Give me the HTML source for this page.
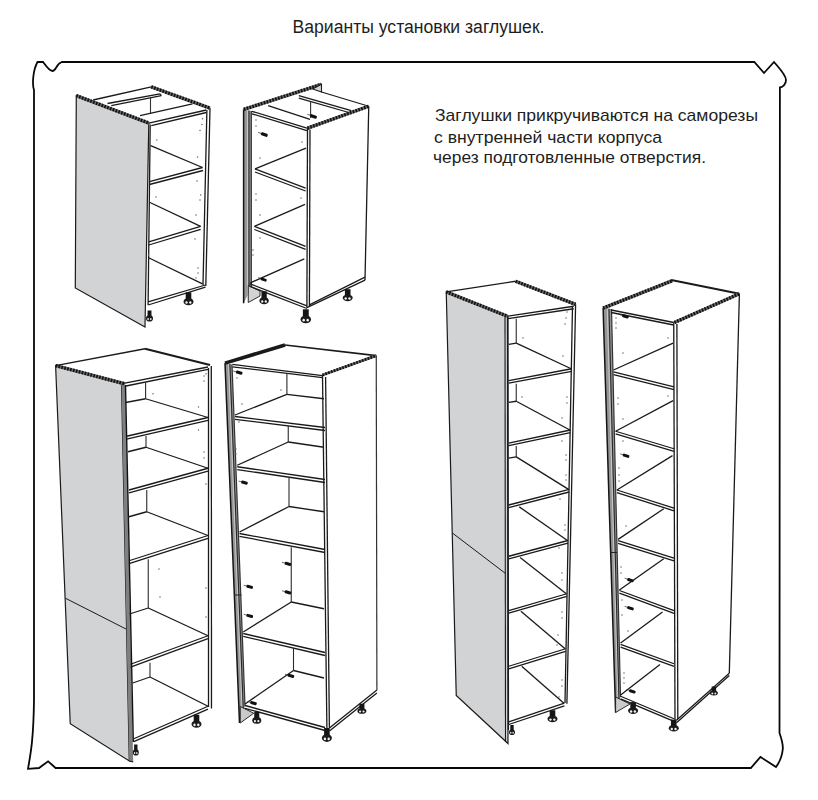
<!DOCTYPE html>
<html><head><meta charset="utf-8">
<style>
html,body{margin:0;padding:0;background:#fff;width:818px;height:800px;overflow:hidden}
svg{position:absolute;left:0;top:0}
text{font-family:"Liberation Sans",sans-serif;fill:#1e1e1e}
</style></head><body>
<svg width="818" height="800" viewBox="0 0 818 800">
<text x="292.5" y="33.2" font-size="18.8" textLength="252" lengthAdjust="spacingAndGlyphs">Варианты установки заглушек.</text>
<text x="435" y="120.5" font-size="17" textLength="323" lengthAdjust="spacingAndGlyphs">Заглушки прикручиваются на саморезы</text>
<text x="434" y="143" font-size="17" textLength="228" lengthAdjust="spacingAndGlyphs">с внутренней части корпуса</text>
<text x="433" y="163" font-size="17" textLength="273" lengthAdjust="spacingAndGlyphs">через подготовленные отверстия.</text>
<path d="M61.9,62 L754.3,62 L764,73 L774,62 C780,69 786,75 786,80 C786,84 783,87 779.9,87.5 L779.5,733 C782,740 783,746 782.8,749 C782,757 779,763 776,767 L760.5,757 L750.8,768 L55.6,768 L48.1,761.3 L39,768 L28,768.8 C31,752 33.5,738 34,700 L34,90 C32,84 33,70 37.5,62 L43.1,62 C46,66 49,71 52.5,71 C56,71 56,64 61.9,62 Z" fill="none" stroke="#080808" stroke-width="1.8"/>
<polygon points="76.30,95.60 148.80,123.10 145.00,326.90 75.30,288.00" fill="#d2d3d5" stroke="#1a1a1a" stroke-width="1.2"/>
<line x1="76.3" y1="95.6" x2="148.8" y2="123.1" stroke="#6a6a6a" stroke-width="3.4"/>
<line x1="76.3" y1="95.6" x2="148.8" y2="123.1" stroke="#111" stroke-width="3.4" stroke-dasharray="1.6 1.4"/>
<polyline points="150.20,124.50 148.10,305.00" fill="none" stroke="#1a1a1a" stroke-width="1.3" />
<polyline points="93.10,100.00 151.25,86.90" fill="none" stroke="#1a1a1a" stroke-width="1.3" />
<line x1="151.25" y1="86.9" x2="210" y2="108.1" stroke="#6a6a6a" stroke-width="3.4"/>
<line x1="151.25" y1="86.9" x2="210" y2="108.1" stroke="#111" stroke-width="3.4" stroke-dasharray="1.6 1.4"/>
<polyline points="107.50,103.50 160.00,93.80" fill="none" stroke="#1a1a1a" stroke-width="1.3" />
<polyline points="111.30,105.60 161.30,95.60" fill="none" stroke="#1a1a1a" stroke-width="1.3" />
<polyline points="160.00,93.80 161.30,95.60" fill="none" stroke="#1a1a1a" stroke-width="1.3" />
<polyline points="150.50,97.50 150.50,113.80" fill="none" stroke="#333" stroke-width="1.1" />
<polyline points="140.00,115.60 192.50,103.80" fill="none" stroke="#1a1a1a" stroke-width="1.3" />
<polyline points="148.80,123.10 206.30,110.00" fill="none" stroke="#1a1a1a" stroke-width="1.3" />
<polyline points="151.30,125.60 206.30,112.50" fill="none" stroke="#1a1a1a" stroke-width="1.3" />
<polyline points="210.00,108.10 205.80,286.00" fill="none" stroke="#1a1a1a" stroke-width="1.3" />
<polyline points="206.90,110.00 203.00,285.00" fill="none" stroke="#1a1a1a" stroke-width="1.3" />
<polyline points="150.60,145.60 202.50,167.50" fill="none" stroke="#1a1a1a" stroke-width="1.3" />
<polyline points="202.50,167.50 149.40,181.60" fill="none" stroke="#1a1a1a" stroke-width="1.3" />
<polyline points="203.00,170.50 149.40,184.50" fill="none" stroke="#1a1a1a" stroke-width="1.3" />
<polyline points="150.00,202.50 200.60,226.30" fill="none" stroke="#1a1a1a" stroke-width="1.3" />
<polyline points="200.60,226.30 148.80,241.90" fill="none" stroke="#1a1a1a" stroke-width="1.3" />
<polyline points="200.60,229.40 148.80,245.00" fill="none" stroke="#1a1a1a" stroke-width="1.3" />
<polyline points="148.10,257.50 202.50,283.80" fill="none" stroke="#1a1a1a" stroke-width="1.3" />
<polyline points="205.50,285.00 148.10,301.90" fill="none" stroke="#1a1a1a" stroke-width="1.3" />
<polyline points="205.50,287.20 148.10,305.00" fill="none" stroke="#1a1a1a" stroke-width="1.3" />
<rect x="185.70" y="292.30" width="5.60" height="7.15" fill="#151515"/>
<ellipse cx="188.5" cy="301.66" rx="5.00" ry="3.64" fill="#1a1a1a"/>
<ellipse cx="186.50" cy="302.44" rx="1.20" ry="1.30" fill="#f0f0f0"/>
<ellipse cx="190.30" cy="302.44" rx="1.20" ry="1.30" fill="#f0f0f0"/>
<rect x="147.54" y="310.50" width="3.92" height="6.05" fill="#151515"/>
<ellipse cx="149.5" cy="318.42" rx="3.50" ry="3.08" fill="#1a1a1a"/>
<ellipse cx="148.10" cy="319.08" rx="0.84" ry="1.10" fill="#f0f0f0"/>
<ellipse cx="150.76" cy="319.08" rx="0.84" ry="1.10" fill="#f0f0f0"/>
<circle cx="156.9" cy="140" r="0.75" fill="#666"/>
<circle cx="200" cy="130.6" r="0.75" fill="#666"/>
<circle cx="201.9" cy="124.4" r="0.75" fill="#666"/>
<circle cx="202.5" cy="118.8" r="0.75" fill="#666"/>
<circle cx="197.5" cy="156.9" r="0.75" fill="#666"/>
<circle cx="197" cy="181" r="0.75" fill="#666"/>
<circle cx="200.6" cy="195" r="0.75" fill="#666"/>
<circle cx="200" cy="200" r="0.75" fill="#666"/>
<circle cx="196" cy="215" r="0.75" fill="#666"/>
<circle cx="195" cy="239" r="0.75" fill="#666"/>
<circle cx="156" cy="197" r="0.75" fill="#666"/>
<circle cx="148.5" cy="255" r="0.75" fill="#666"/>
<circle cx="198" cy="268" r="0.75" fill="#666"/>
<circle cx="198" cy="273" r="0.75" fill="#666"/>
<circle cx="196" cy="278" r="0.75" fill="#666"/>
<polygon points="243.60,109.40 251.30,111.00 251.30,288.00 243.60,303.30" fill="#969696" stroke="none" stroke-width="0"/>
<polyline points="247.45,110.20 247.45,295.65" fill="none" stroke="#d8d8d8" stroke-width="0.8" />
<polyline points="248.99,110.52 248.99,292.59" fill="none" stroke="#222" stroke-width="1.0" />
<polyline points="243.60,109.40 243.60,303.30" fill="none" stroke="#151515" stroke-width="1.5" />
<polyline points="251.30,111.00 251.30,288.00" fill="none" stroke="#333" stroke-width="1.2" />
<polygon points="248.25,285.50 260.00,291.00 260.00,296.00 248.25,302.50" fill="#d2d3d5" stroke="#1a1a1a" stroke-width="0.9"/>
<line x1="243.8" y1="109.4" x2="321.5" y2="84.3" stroke="#6a6a6a" stroke-width="3.4"/>
<line x1="243.8" y1="109.4" x2="321.5" y2="84.3" stroke="#111" stroke-width="3.4" stroke-dasharray="1.6 1.4"/>
<polygon points="312.50,89.00 321.50,84.30 321.50,92.00" fill="#d2d3d5" stroke="#1a1a1a" stroke-width="1.1"/>
<polyline points="321.50,92.00 368.75,106.25" fill="none" stroke="#1a1a1a" stroke-width="1.3" />
<line x1="307.5" y1="128.1" x2="368.75" y2="106.25" stroke="#6a6a6a" stroke-width="3.4"/>
<line x1="307.5" y1="128.1" x2="368.75" y2="106.25" stroke="#111" stroke-width="3.4" stroke-dasharray="1.6 1.4"/>
<polyline points="368.75,106.25 365.00,280.20" fill="none" stroke="#1a1a1a" stroke-width="1.3" />
<polyline points="307.50,128.10 306.90,307.60" fill="none" stroke="#1a1a1a" stroke-width="1.3" />
<polyline points="310.00,129.50 309.40,306.00" fill="none" stroke="#1a1a1a" stroke-width="1.3" />
<polyline points="251.90,111.30 306.90,128.10" fill="none" stroke="#1a1a1a" stroke-width="1.3" />
<polyline points="251.90,113.80 306.90,130.60" fill="none" stroke="#1a1a1a" stroke-width="1.3" />
<polyline points="268.10,105.60 310.00,119.40" fill="none" stroke="#1a1a1a" stroke-width="1.3" />
<polyline points="298.80,95.60 351.30,110.60" fill="none" stroke="#1a1a1a" stroke-width="1.3" />
<polyline points="298.80,98.10 348.80,112.50" fill="none" stroke="#1a1a1a" stroke-width="1.3" />
<polyline points="310.60,101.30 310.60,118.10" fill="none" stroke="#333" stroke-width="1.1" />
<polyline points="306.00,148.10 255.00,168.80" fill="none" stroke="#1a1a1a" stroke-width="1.3" />
<polyline points="255.00,168.80 305.60,188.10" fill="none" stroke="#1a1a1a" stroke-width="1.3" />
<polyline points="255.00,172.00 305.60,191.00" fill="none" stroke="#1a1a1a" stroke-width="1.3" />
<polyline points="305.00,204.40 254.40,226.30" fill="none" stroke="#1a1a1a" stroke-width="1.3" />
<polyline points="254.40,226.30 305.60,246.30" fill="none" stroke="#1a1a1a" stroke-width="1.3" />
<polyline points="254.40,229.50 305.60,249.30" fill="none" stroke="#1a1a1a" stroke-width="1.3" />
<polyline points="304.30,258.80 250.40,282.80" fill="none" stroke="#1a1a1a" stroke-width="1.3" />
<polyline points="249.50,283.60 306.90,305.90" fill="none" stroke="#1a1a1a" stroke-width="1.3" />
<polyline points="249.50,286.20 306.90,308.50" fill="none" stroke="#1a1a1a" stroke-width="1.3" />
<polyline points="306.90,307.60 365.00,280.20" fill="none" stroke="#1a1a1a" stroke-width="1.3" />
<polyline points="309.40,304.80 365.00,277.20" fill="none" stroke="#1a1a1a" stroke-width="1.3" />
<g transform="translate(313,116.3) rotate(20) scale(1.0)"><line x1="-6" y1="0" x2="0" y2="0" stroke="#333" stroke-width="0.7"/><rect x="-3" y="-1.6" width="7" height="3.2" rx="1.2" fill="#111"/></g>
<g transform="translate(263.8,134.4) rotate(20) scale(1.0)"><line x1="-6" y1="0" x2="0" y2="0" stroke="#333" stroke-width="0.7"/><rect x="-3" y="-1.6" width="7" height="3.2" rx="1.2" fill="#111"/></g>
<g transform="translate(263.2,279.4) rotate(20) scale(0.9)"><line x1="-6" y1="0" x2="0" y2="0" stroke="#333" stroke-width="0.7"/><rect x="-3" y="-1.6" width="7" height="3.2" rx="1.2" fill="#111"/></g>
<rect x="261.47" y="291.30" width="5.26" height="7.15" fill="#151515"/>
<ellipse cx="264.1" cy="300.66" rx="4.70" ry="3.64" fill="#1a1a1a"/>
<ellipse cx="262.22" cy="301.44" rx="1.13" ry="1.30" fill="#f0f0f0"/>
<ellipse cx="265.79" cy="301.44" rx="1.13" ry="1.30" fill="#f0f0f0"/>
<rect x="302.86" y="309.30" width="5.88" height="7.70" fill="#151515"/>
<ellipse cx="305.8" cy="319.38" rx="5.25" ry="3.92" fill="#1a1a1a"/>
<ellipse cx="303.70" cy="320.22" rx="1.26" ry="1.40" fill="#f0f0f0"/>
<ellipse cx="307.69" cy="320.22" rx="1.26" ry="1.40" fill="#f0f0f0"/>
<rect x="344.90" y="289.20" width="5.60" height="6.60" fill="#151515"/>
<ellipse cx="347.7" cy="297.84" rx="5.00" ry="3.36" fill="#1a1a1a"/>
<ellipse cx="345.70" cy="298.56" rx="1.20" ry="1.20" fill="#f0f0f0"/>
<ellipse cx="349.50" cy="298.56" rx="1.20" ry="1.20" fill="#f0f0f0"/>
<circle cx="256" cy="120" r="0.75" fill="#666"/>
<circle cx="256" cy="126" r="0.75" fill="#666"/>
<circle cx="302" cy="142" r="0.75" fill="#666"/>
<circle cx="260" cy="158" r="0.75" fill="#666"/>
<circle cx="256" cy="194" r="0.75" fill="#666"/>
<circle cx="256" cy="200" r="0.75" fill="#666"/>
<circle cx="301" cy="198" r="0.75" fill="#666"/>
<circle cx="260" cy="215" r="0.75" fill="#666"/>
<circle cx="260" cy="238" r="0.75" fill="#666"/>
<circle cx="253" cy="250" r="0.75" fill="#666"/>
<circle cx="253" cy="255" r="0.75" fill="#666"/>
<polygon points="55.60,365.60 121.50,383.00 129.30,761.00 70.25,723.75" fill="#d2d3d5" stroke="#1a1a1a" stroke-width="1.2"/>
<polygon points="121.50,383.00 125.30,384.50 133.20,762.00 129.30,761.00" fill="#808080" stroke="none" stroke-width="0"/>
<polyline points="125.50,385.00 133.30,742.00" fill="none" stroke="#111" stroke-width="1.4" />
<polyline points="129.30,761.00 133.20,762.00" fill="none" stroke="#111" stroke-width="1.2" />
<line x1="55.6" y1="365.6" x2="124.5" y2="383.75" stroke="#6a6a6a" stroke-width="3.4"/>
<line x1="55.6" y1="365.6" x2="124.5" y2="383.75" stroke="#111" stroke-width="3.4" stroke-dasharray="1.6 1.4"/>
<polyline points="65.50,598.25 126.00,629.00" fill="none" stroke="#1a1a1a" stroke-width="1.0" />
<polyline points="55.60,365.60 145.00,348.75" fill="none" stroke="#1a1a1a" stroke-width="1.3" />
<polyline points="145.00,348.75 210.00,365.00" fill="none" stroke="#1a1a1a" stroke-width="2.3" />
<polyline points="123.50,383.30 208.00,367.00" fill="none" stroke="#1a1a1a" stroke-width="1.3" />
<polyline points="126.00,386.00 208.00,369.40" fill="none" stroke="#1a1a1a" stroke-width="1.3" />
<polyline points="211.30,366.00 211.50,708.50" fill="none" stroke="#1a1a1a" stroke-width="1.3" />
<polyline points="208.50,368.00 208.50,707.00" fill="none" stroke="#1a1a1a" stroke-width="1.3" />
<polyline points="145.60,382.50 145.60,398.75" fill="none" stroke="#2a2a2a" stroke-width="1.1" />
<polyline points="125.60,402.50 145.60,398.75" fill="none" stroke="#1a1a1a" stroke-width="1.3" />
<polyline points="145.60,398.75 208.00,417.50" fill="none" stroke="#1a1a1a" stroke-width="1.3" />
<polyline points="208.00,417.50 126.60,436.25" fill="none" stroke="#1a1a1a" stroke-width="1.3" />
<polyline points="208.00,420.30 126.60,439.05" fill="none" stroke="#1a1a1a" stroke-width="1.3" />
<polyline points="146.00,436.00 146.00,447.25" fill="none" stroke="#2a2a2a" stroke-width="1.1" />
<polyline points="128.00,451.75 146.00,447.25" fill="none" stroke="#1a1a1a" stroke-width="1.3" />
<polyline points="146.00,447.25 208.00,468.25" fill="none" stroke="#1a1a1a" stroke-width="1.3" />
<polyline points="208.00,468.25 129.00,490.00" fill="none" stroke="#1a1a1a" stroke-width="1.3" />
<polyline points="208.00,471.05 129.00,492.80" fill="none" stroke="#1a1a1a" stroke-width="1.3" />
<polyline points="146.75,490.00 146.75,511.75" fill="none" stroke="#2a2a2a" stroke-width="1.1" />
<polyline points="128.00,517.00 146.75,511.75" fill="none" stroke="#1a1a1a" stroke-width="1.3" />
<polyline points="146.75,511.75 208.00,535.50" fill="none" stroke="#1a1a1a" stroke-width="1.3" />
<polyline points="208.00,535.50 129.00,560.75" fill="none" stroke="#1a1a1a" stroke-width="1.3" />
<polyline points="208.00,538.30 129.00,563.55" fill="none" stroke="#1a1a1a" stroke-width="1.3" />
<polyline points="148.25,559.25 148.25,608.00" fill="none" stroke="#2a2a2a" stroke-width="1.1" />
<polyline points="129.50,614.00 148.25,608.00" fill="none" stroke="#1a1a1a" stroke-width="1.3" />
<polyline points="148.25,608.00 208.00,635.75" fill="none" stroke="#1a1a1a" stroke-width="1.3" />
<polyline points="208.00,635.75 130.50,664.25" fill="none" stroke="#1a1a1a" stroke-width="1.3" />
<polyline points="208.00,638.55 130.50,667.05" fill="none" stroke="#1a1a1a" stroke-width="1.3" />
<polyline points="150.00,662.75 150.00,677.00" fill="none" stroke="#2a2a2a" stroke-width="1.1" />
<polyline points="132.75,683.00 150.00,677.00" fill="none" stroke="#1a1a1a" stroke-width="1.3" />
<polyline points="150.00,677.00 208.00,706.25" fill="none" stroke="#1a1a1a" stroke-width="1.3" />
<polyline points="208.00,706.25 133.75,738.75" fill="none" stroke="#1a1a1a" stroke-width="1.3" />
<polyline points="208.00,709.05 133.75,741.55" fill="none" stroke="#1a1a1a" stroke-width="1.3" />
<rect x="193.70" y="714.75" width="5.60" height="7.15" fill="#151515"/>
<ellipse cx="196.5" cy="724.11" rx="5.00" ry="3.64" fill="#1a1a1a"/>
<ellipse cx="194.50" cy="724.89" rx="1.20" ry="1.30" fill="#f0f0f0"/>
<ellipse cx="198.30" cy="724.89" rx="1.20" ry="1.30" fill="#f0f0f0"/>
<rect x="134.12" y="744.50" width="3.36" height="6.05" fill="#151515"/>
<ellipse cx="135.8" cy="752.42" rx="3.00" ry="3.08" fill="#1a1a1a"/>
<ellipse cx="134.60" cy="753.08" rx="0.72" ry="1.10" fill="#f0f0f0"/>
<ellipse cx="136.88" cy="753.08" rx="0.72" ry="1.10" fill="#f0f0f0"/>
<circle cx="153" cy="393.75" r="0.75" fill="#666"/>
<circle cx="206" cy="373.75" r="0.75" fill="#666"/>
<circle cx="204" cy="376" r="0.75" fill="#666"/>
<circle cx="204" cy="381" r="0.75" fill="#666"/>
<circle cx="198.5" cy="407" r="0.75" fill="#666"/>
<circle cx="198.5" cy="430" r="0.75" fill="#666"/>
<circle cx="204" cy="452" r="0.75" fill="#666"/>
<circle cx="204" cy="458" r="0.75" fill="#666"/>
<circle cx="206" cy="484" r="0.75" fill="#666"/>
<circle cx="159" cy="569" r="0.75" fill="#666"/>
<circle cx="160" cy="597" r="0.75" fill="#666"/>
<circle cx="206" cy="588" r="0.75" fill="#666"/>
<circle cx="206" cy="617" r="0.75" fill="#666"/>
<polygon points="225.00,363.10 232.00,364.50 245.00,706.00 239.50,723.00" fill="#969696" stroke="none" stroke-width="0"/>
<polyline points="228.50,363.80 242.25,714.50" fill="none" stroke="#d8d8d8" stroke-width="0.8" />
<polyline points="229.90,364.08 243.35,711.10" fill="none" stroke="#222" stroke-width="1.0" />
<polyline points="225.00,363.10 239.50,723.00" fill="none" stroke="#151515" stroke-width="1.5" />
<polyline points="232.00,364.50 245.00,706.00" fill="none" stroke="#333" stroke-width="1.2" />
<polyline points="234.00,595.00 241.50,595.00" fill="none" stroke="#222" stroke-width="1.0" />
<polygon points="240.25,706.50 253.75,713.25 240.25,723.00" fill="#c9cacc" stroke="#1a1a1a" stroke-width="0.9"/>
<polyline points="225.00,363.10 285.00,345.00" fill="none" stroke="#1a1a1a" stroke-width="3.6" />
<polyline points="285.00,345.00 376.25,355.60" fill="none" stroke="#1a1a1a" stroke-width="1.6" />
<line x1="322.5" y1="375" x2="376.25" y2="355.6" stroke="#6a6a6a" stroke-width="2.8"/>
<line x1="322.5" y1="375" x2="376.25" y2="355.6" stroke="#111" stroke-width="2.8" stroke-dasharray="1.6 1.4"/>
<polyline points="376.25,355.60 376.90,690.00" fill="none" stroke="#333" stroke-width="1.2" />
<polyline points="322.50,375.00 326.90,728.00" fill="none" stroke="#1a1a1a" stroke-width="1.3" />
<polyline points="325.60,377.00 329.40,728.00" fill="none" stroke="#1a1a1a" stroke-width="1.3" />
<polyline points="329.40,728.00 376.90,690.00" fill="none" stroke="#1a1a1a" stroke-width="1.3" />
<polyline points="329.40,731.00 376.90,693.00" fill="none" stroke="#1a1a1a" stroke-width="1.3" />
<polyline points="232.50,364.40 322.50,375.60" fill="none" stroke="#1a1a1a" stroke-width="1.3" />
<polyline points="232.50,366.90 322.50,377.60" fill="none" stroke="#1a1a1a" stroke-width="1.3" />
<polyline points="286.90,373.00 286.90,394.40" fill="none" stroke="#2a2a2a" stroke-width="1.1" />
<polyline points="286.90,394.40 235.00,415.00" fill="none" stroke="#1a1a1a" stroke-width="1.3" />
<polyline points="286.90,394.40 324.00,398.75" fill="none" stroke="#1a1a1a" stroke-width="1.3" />
<polyline points="235.00,416.50 325.00,427.50" fill="none" stroke="#1a1a1a" stroke-width="1.3" />
<polyline points="235.00,419.30 325.00,430.50" fill="none" stroke="#1a1a1a" stroke-width="1.3" />
<polyline points="288.25,426.00 288.25,442.00" fill="none" stroke="#2a2a2a" stroke-width="1.1" />
<polyline points="288.25,442.00 237.25,465.25" fill="none" stroke="#1a1a1a" stroke-width="1.3" />
<polyline points="288.25,442.00 324.00,447.25" fill="none" stroke="#1a1a1a" stroke-width="1.3" />
<polyline points="237.25,466.75 325.00,479.50" fill="none" stroke="#1a1a1a" stroke-width="1.3" />
<polyline points="237.25,469.55 325.00,482.50" fill="none" stroke="#1a1a1a" stroke-width="1.3" />
<polyline points="289.00,478.00 289.00,506.50" fill="none" stroke="#2a2a2a" stroke-width="1.1" />
<polyline points="289.00,506.50 239.50,532.00" fill="none" stroke="#1a1a1a" stroke-width="1.3" />
<polyline points="289.00,506.50 324.00,511.75" fill="none" stroke="#1a1a1a" stroke-width="1.3" />
<polyline points="239.50,533.50 325.00,549.50" fill="none" stroke="#1a1a1a" stroke-width="1.3" />
<polyline points="239.50,536.30 325.00,552.50" fill="none" stroke="#1a1a1a" stroke-width="1.3" />
<polyline points="291.25,547.25 291.25,602.00" fill="none" stroke="#2a2a2a" stroke-width="1.1" />
<polyline points="291.25,602.00 243.25,632.00" fill="none" stroke="#1a1a1a" stroke-width="1.3" />
<polyline points="291.25,602.00 324.00,608.75" fill="none" stroke="#1a1a1a" stroke-width="1.3" />
<polyline points="243.25,633.50 325.00,652.50" fill="none" stroke="#1a1a1a" stroke-width="1.3" />
<polyline points="243.25,636.30 325.00,655.50" fill="none" stroke="#1a1a1a" stroke-width="1.3" />
<polyline points="293.50,648.00 293.50,670.50" fill="none" stroke="#2a2a2a" stroke-width="1.1" />
<polyline points="293.50,670.50 245.00,704.00" fill="none" stroke="#1a1a1a" stroke-width="1.3" />
<polyline points="293.50,670.50 324.00,678.00" fill="none" stroke="#1a1a1a" stroke-width="1.3" />
<polyline points="245.00,705.50 325.00,727.50" fill="none" stroke="#1a1a1a" stroke-width="1.3" />
<polyline points="245.00,708.30 325.00,730.50" fill="none" stroke="#1a1a1a" stroke-width="1.3" />
<g transform="translate(238.75,372.5) rotate(15) scale(0.95)"><line x1="-6" y1="0" x2="0" y2="0" stroke="#333" stroke-width="0.7"/><rect x="-3" y="-1.6" width="7" height="3.2" rx="1.2" fill="#111"/></g>
<g transform="translate(244,482.5) rotate(15) scale(0.95)"><line x1="-6" y1="0" x2="0" y2="0" stroke="#333" stroke-width="0.7"/><rect x="-3" y="-1.6" width="7" height="3.2" rx="1.2" fill="#111"/></g>
<g transform="translate(287.5,563.75) rotate(15) scale(0.95)"><line x1="-6" y1="0" x2="0" y2="0" stroke="#333" stroke-width="0.7"/><rect x="-3" y="-1.6" width="7" height="3.2" rx="1.2" fill="#111"/></g>
<g transform="translate(249.25,586.7) rotate(15) scale(0.95)"><line x1="-6" y1="0" x2="0" y2="0" stroke="#333" stroke-width="0.7"/><rect x="-3" y="-1.6" width="7" height="3.2" rx="1.2" fill="#111"/></g>
<g transform="translate(287.5,592.25) rotate(15) scale(0.95)"><line x1="-6" y1="0" x2="0" y2="0" stroke="#333" stroke-width="0.7"/><rect x="-3" y="-1.6" width="7" height="3.2" rx="1.2" fill="#111"/></g>
<g transform="translate(249.25,615.8) rotate(15) scale(0.95)"><line x1="-6" y1="0" x2="0" y2="0" stroke="#333" stroke-width="0.7"/><rect x="-3" y="-1.6" width="7" height="3.2" rx="1.2" fill="#111"/></g>
<g transform="translate(290.5,675.75) rotate(15) scale(0.95)"><line x1="-6" y1="0" x2="0" y2="0" stroke="#333" stroke-width="0.7"/><rect x="-3" y="-1.6" width="7" height="3.2" rx="1.2" fill="#111"/></g>
<g transform="translate(253,703) rotate(15) scale(0.95)"><line x1="-6" y1="0" x2="0" y2="0" stroke="#333" stroke-width="0.7"/><rect x="-3" y="-1.6" width="7" height="3.2" rx="1.2" fill="#111"/></g>
<rect x="254.23" y="711.75" width="5.04" height="6.60" fill="#151515"/>
<ellipse cx="256.75" cy="720.39" rx="4.50" ry="3.36" fill="#1a1a1a"/>
<ellipse cx="254.95" cy="721.11" rx="1.08" ry="1.20" fill="#f0f0f0"/>
<ellipse cx="258.37" cy="721.11" rx="1.08" ry="1.20" fill="#f0f0f0"/>
<rect x="324.10" y="728.00" width="5.60" height="7.70" fill="#151515"/>
<ellipse cx="326.9" cy="738.08" rx="5.00" ry="3.92" fill="#1a1a1a"/>
<ellipse cx="324.90" cy="738.92" rx="1.20" ry="1.40" fill="#f0f0f0"/>
<ellipse cx="328.70" cy="738.92" rx="1.20" ry="1.40" fill="#f0f0f0"/>
<rect x="359.38" y="703.75" width="5.04" height="5.50" fill="#151515"/>
<ellipse cx="361.9" cy="710.95" rx="4.50" ry="2.80" fill="#1a1a1a"/>
<ellipse cx="360.10" cy="711.55" rx="1.08" ry="1.00" fill="#f0f0f0"/>
<ellipse cx="363.52" cy="711.55" rx="1.08" ry="1.00" fill="#f0f0f0"/>
<circle cx="237" cy="378" r="0.75" fill="#666"/>
<circle cx="242" cy="404" r="0.75" fill="#666"/>
<circle cx="281" cy="390" r="0.75" fill="#666"/>
<circle cx="239" cy="422" r="0.75" fill="#666"/>
<circle cx="236" cy="449" r="0.75" fill="#666"/>
<circle cx="236" cy="454" r="0.75" fill="#666"/>
<polygon points="446.25,291.90 507.50,316.25 508.00,743.50 456.25,695.50" fill="#d2d3d5" stroke="#1a1a1a" stroke-width="1.2"/>
<polyline points="505.00,317.00 505.50,742.00" fill="none" stroke="#1a1a1a" stroke-width="1.1" />
<polyline points="508.00,317.00 508.50,730.00" fill="none" stroke="#1a1a1a" stroke-width="1.2" />
<line x1="446.25" y1="291.9" x2="507.5" y2="316.25" stroke="#6a6a6a" stroke-width="3.4"/>
<line x1="446.25" y1="291.9" x2="507.5" y2="316.25" stroke="#111" stroke-width="3.4" stroke-dasharray="1.6 1.4"/>
<polyline points="452.50,533.10 505.00,573.10" fill="none" stroke="#1a1a1a" stroke-width="1.0" />
<polyline points="446.25,291.90 515.60,281.25" fill="none" stroke="#1a1a1a" stroke-width="1.3" />
<line x1="515.6" y1="281.25" x2="575.6" y2="304.4" stroke="#6a6a6a" stroke-width="3.4"/>
<line x1="515.6" y1="281.25" x2="575.6" y2="304.4" stroke="#111" stroke-width="3.4" stroke-dasharray="1.6 1.4"/>
<polyline points="507.50,316.25 573.75,306.25" fill="none" stroke="#1a1a1a" stroke-width="1.3" />
<polyline points="508.10,318.60 573.75,308.75" fill="none" stroke="#1a1a1a" stroke-width="1.3" />
<polyline points="575.60,304.40 566.90,703.75" fill="none" stroke="#1a1a1a" stroke-width="1.3" />
<polyline points="572.50,306.00 565.00,703.00" fill="none" stroke="#1a1a1a" stroke-width="1.3" />
<polyline points="516.25,318.75 516.25,343.10" fill="none" stroke="#2a2a2a" stroke-width="1.1" />
<polyline points="508.75,344.30 516.25,343.10" fill="none" stroke="#1a1a1a" stroke-width="1.3" />
<polyline points="516.25,343.10 571.20,368.75" fill="none" stroke="#1a1a1a" stroke-width="1.3" />
<polyline points="571.70,368.75 508.75,380.60" fill="none" stroke="#1a1a1a" stroke-width="1.3" />
<polyline points="571.70,371.35 508.75,383.20" fill="none" stroke="#1a1a1a" stroke-width="1.3" />
<polyline points="516.25,383.75 516.25,401.25" fill="none" stroke="#2a2a2a" stroke-width="1.1" />
<polyline points="508.75,402.45 516.25,401.25" fill="none" stroke="#1a1a1a" stroke-width="1.3" />
<polyline points="516.25,401.25 569.86,430.00" fill="none" stroke="#1a1a1a" stroke-width="1.3" />
<polyline points="570.36,430.00 508.75,443.10" fill="none" stroke="#1a1a1a" stroke-width="1.3" />
<polyline points="570.36,432.60 508.75,445.70" fill="none" stroke="#1a1a1a" stroke-width="1.3" />
<polyline points="516.25,446.00 516.25,456.90" fill="none" stroke="#2a2a2a" stroke-width="1.1" />
<polyline points="508.75,458.10 516.25,456.90" fill="none" stroke="#1a1a1a" stroke-width="1.3" />
<polyline points="516.25,456.90 568.57,489.40" fill="none" stroke="#1a1a1a" stroke-width="1.3" />
<polyline points="569.07,489.40 508.75,505.00" fill="none" stroke="#1a1a1a" stroke-width="1.3" />
<polyline points="569.07,492.00 508.75,507.60" fill="none" stroke="#1a1a1a" stroke-width="1.3" />
<polyline points="519.30,506.90 567.45,540.50" fill="none" stroke="#1a1a1a" stroke-width="1.3" />
<polyline points="567.95,540.50 508.75,556.25" fill="none" stroke="#1a1a1a" stroke-width="1.3" />
<polyline points="567.95,543.10 508.75,558.85" fill="none" stroke="#1a1a1a" stroke-width="1.3" />
<polyline points="520.10,557.50 566.29,593.75" fill="none" stroke="#1a1a1a" stroke-width="1.3" />
<polyline points="566.79,593.75 508.75,610.60" fill="none" stroke="#1a1a1a" stroke-width="1.3" />
<polyline points="566.79,596.35 508.75,613.20" fill="none" stroke="#1a1a1a" stroke-width="1.3" />
<polyline points="520.90,611.25 565.09,648.75" fill="none" stroke="#1a1a1a" stroke-width="1.3" />
<polyline points="565.59,648.75 508.75,666.25" fill="none" stroke="#1a1a1a" stroke-width="1.3" />
<polyline points="565.59,651.35 508.75,668.85" fill="none" stroke="#1a1a1a" stroke-width="1.3" />
<polyline points="521.70,666.25 563.91,703.20" fill="none" stroke="#1a1a1a" stroke-width="1.3" />
<polyline points="564.41,703.20 508.75,721.90" fill="none" stroke="#1a1a1a" stroke-width="1.3" />
<polyline points="564.41,705.80 508.75,724.50" fill="none" stroke="#1a1a1a" stroke-width="1.3" />
<rect x="549.70" y="710.25" width="5.60" height="6.60" fill="#151515"/>
<ellipse cx="552.5" cy="718.89" rx="5.00" ry="3.36" fill="#1a1a1a"/>
<ellipse cx="550.50" cy="719.61" rx="1.20" ry="1.20" fill="#f0f0f0"/>
<ellipse cx="554.30" cy="719.61" rx="1.20" ry="1.20" fill="#f0f0f0"/>
<rect x="510.32" y="725.00" width="3.36" height="5.50" fill="#151515"/>
<ellipse cx="512" cy="732.20" rx="3.00" ry="2.80" fill="#1a1a1a"/>
<ellipse cx="510.80" cy="732.80" rx="0.72" ry="1.00" fill="#f0f0f0"/>
<ellipse cx="513.08" cy="732.80" rx="0.72" ry="1.00" fill="#f0f0f0"/>
<circle cx="523" cy="338" r="0.75" fill="#666"/>
<circle cx="567" cy="312" r="0.75" fill="#666"/>
<circle cx="566" cy="318" r="0.75" fill="#666"/>
<circle cx="565" cy="324" r="0.75" fill="#666"/>
<circle cx="563" cy="356" r="0.75" fill="#666"/>
<circle cx="522" cy="397" r="0.75" fill="#666"/>
<circle cx="567" cy="397" r="0.75" fill="#666"/>
<circle cx="567" cy="403" r="0.75" fill="#666"/>
<circle cx="562" cy="418" r="0.75" fill="#666"/>
<circle cx="562" cy="441" r="0.75" fill="#666"/>
<circle cx="566" cy="455" r="0.75" fill="#666"/>
<circle cx="566" cy="460" r="0.75" fill="#666"/>
<circle cx="566" cy="475" r="0.75" fill="#666"/>
<circle cx="566" cy="480" r="0.75" fill="#666"/>
<circle cx="560" cy="499" r="0.75" fill="#666"/>
<circle cx="565" cy="525" r="0.75" fill="#666"/>
<circle cx="565" cy="530" r="0.75" fill="#666"/>
<circle cx="559" cy="548" r="0.75" fill="#666"/>
<circle cx="562" cy="573" r="0.75" fill="#666"/>
<circle cx="562" cy="580" r="0.75" fill="#666"/>
<circle cx="562" cy="612" r="0.75" fill="#666"/>
<circle cx="562" cy="618" r="0.75" fill="#666"/>
<circle cx="558" cy="635" r="0.75" fill="#666"/>
<circle cx="557" cy="645" r="0.75" fill="#666"/>
<circle cx="562" cy="680" r="0.75" fill="#666"/>
<circle cx="562" cy="686" r="0.75" fill="#666"/>
<circle cx="559" cy="697" r="0.75" fill="#666"/>
<polygon points="603.10,308.10 611.50,309.00 620.50,697.00 615.60,712.50" fill="#969696" stroke="none" stroke-width="0"/>
<polyline points="607.30,308.55 618.05,704.75" fill="none" stroke="#d8d8d8" stroke-width="0.8" />
<polyline points="608.98,308.73 619.03,701.65" fill="none" stroke="#222" stroke-width="1.0" />
<polyline points="603.10,308.10 615.60,712.50" fill="none" stroke="#151515" stroke-width="1.5" />
<polyline points="611.50,309.00 620.50,697.00" fill="none" stroke="#333" stroke-width="1.2" />
<polyline points="610.60,552.50 617.00,552.50" fill="none" stroke="#222" stroke-width="1.0" />
<polygon points="615.60,697.00 630.00,704.00 615.60,712.50" fill="#c9cacc" stroke="#1a1a1a" stroke-width="0.9"/>
<line x1="603.1" y1="308.1" x2="672.5" y2="280.6" stroke="#6a6a6a" stroke-width="3.4"/>
<line x1="603.1" y1="308.1" x2="672.5" y2="280.6" stroke="#111" stroke-width="3.4" stroke-dasharray="1.6 1.4"/>
<polyline points="671.25,280.00 739.40,293.75" fill="none" stroke="#1a1a1a" stroke-width="1.9" />
<line x1="674.4" y1="322.5" x2="739.4" y2="293.75" stroke="#6a6a6a" stroke-width="3.4"/>
<line x1="674.4" y1="322.5" x2="739.4" y2="293.75" stroke="#111" stroke-width="3.4" stroke-dasharray="1.6 1.4"/>
<polyline points="739.40,293.75 729.30,673.20" fill="none" stroke="#1a1a1a" stroke-width="1.3" />
<polyline points="673.75,322.50 675.00,720.00" fill="none" stroke="#1a1a1a" stroke-width="1.3" />
<polyline points="676.90,324.00 677.80,719.00" fill="none" stroke="#1a1a1a" stroke-width="1.3" />
<polyline points="676.50,720.30 729.30,673.20" fill="none" stroke="#1a1a1a" stroke-width="1.3" />
<polyline points="676.50,722.80 729.30,675.60" fill="none" stroke="#1a1a1a" stroke-width="1.3" />
<polyline points="611.25,310.00 673.75,322.50" fill="none" stroke="#1a1a1a" stroke-width="1.3" />
<polyline points="611.25,312.50 673.75,325.00" fill="none" stroke="#1a1a1a" stroke-width="1.3" />
<polyline points="673.10,343.10 613.50,370.00" fill="none" stroke="#1a1a1a" stroke-width="1.3" />
<polyline points="613.50,371.90 674.00,386.90" fill="none" stroke="#1a1a1a" stroke-width="1.3" />
<polyline points="613.50,374.60 674.00,389.60" fill="none" stroke="#1a1a1a" stroke-width="1.3" />
<polyline points="673.10,400.60 615.60,431.25" fill="none" stroke="#1a1a1a" stroke-width="1.3" />
<polyline points="615.60,431.25 674.00,448.75" fill="none" stroke="#1a1a1a" stroke-width="1.3" />
<polyline points="615.60,433.95 674.00,451.45" fill="none" stroke="#1a1a1a" stroke-width="1.3" />
<polyline points="672.50,455.60 616.90,490.00" fill="none" stroke="#1a1a1a" stroke-width="1.3" />
<polyline points="616.90,490.00 674.00,508.10" fill="none" stroke="#1a1a1a" stroke-width="1.3" />
<polyline points="616.90,492.70 674.00,510.80" fill="none" stroke="#1a1a1a" stroke-width="1.3" />
<polyline points="663.75,508.75 618.10,539.40" fill="none" stroke="#1a1a1a" stroke-width="1.3" />
<polyline points="618.10,540.60 674.00,558.10" fill="none" stroke="#1a1a1a" stroke-width="1.3" />
<polyline points="618.10,543.30 674.00,560.80" fill="none" stroke="#1a1a1a" stroke-width="1.3" />
<polyline points="663.75,558.75 619.40,590.00" fill="none" stroke="#1a1a1a" stroke-width="1.3" />
<polyline points="619.40,590.50 674.00,610.60" fill="none" stroke="#1a1a1a" stroke-width="1.3" />
<polyline points="619.40,593.20 674.00,613.30" fill="none" stroke="#1a1a1a" stroke-width="1.3" />
<polyline points="662.50,611.90 620.60,643.10" fill="none" stroke="#1a1a1a" stroke-width="1.3" />
<polyline points="620.60,644.40 674.00,663.75" fill="none" stroke="#1a1a1a" stroke-width="1.3" />
<polyline points="620.60,647.10 674.00,666.45" fill="none" stroke="#1a1a1a" stroke-width="1.3" />
<polyline points="660.00,664.40 620.60,695.00" fill="none" stroke="#1a1a1a" stroke-width="1.3" />
<polyline points="620.60,696.25 674.00,718.75" fill="none" stroke="#1a1a1a" stroke-width="1.3" />
<polyline points="620.60,698.95 674.00,721.45" fill="none" stroke="#1a1a1a" stroke-width="1.3" />
<g transform="translate(625,316.25) rotate(18) scale(0.95)"><line x1="-6" y1="0" x2="0" y2="0" stroke="#333" stroke-width="0.7"/><rect x="-3" y="-1.6" width="7" height="3.2" rx="1.2" fill="#111"/></g>
<g transform="translate(625.6,455.6) rotate(18) scale(0.95)"><line x1="-6" y1="0" x2="0" y2="0" stroke="#333" stroke-width="0.7"/><rect x="-3" y="-1.6" width="7" height="3.2" rx="1.2" fill="#111"/></g>
<g transform="translate(630,580) rotate(18) scale(0.95)"><line x1="-6" y1="0" x2="0" y2="0" stroke="#333" stroke-width="0.7"/><rect x="-3" y="-1.6" width="7" height="3.2" rx="1.2" fill="#111"/></g>
<g transform="translate(630,608.1) rotate(18) scale(0.95)"><line x1="-6" y1="0" x2="0" y2="0" stroke="#333" stroke-width="0.7"/><rect x="-3" y="-1.6" width="7" height="3.2" rx="1.2" fill="#111"/></g>
<g transform="translate(631.9,691.25) rotate(18) scale(0.95)"><line x1="-6" y1="0" x2="0" y2="0" stroke="#333" stroke-width="0.7"/><rect x="-3" y="-1.6" width="7" height="3.2" rx="1.2" fill="#111"/></g>
<rect x="630.30" y="702.10" width="5.60" height="6.60" fill="#151515"/>
<ellipse cx="633.1" cy="710.74" rx="5.00" ry="3.36" fill="#1a1a1a"/>
<ellipse cx="631.10" cy="711.46" rx="1.20" ry="1.20" fill="#f0f0f0"/>
<ellipse cx="634.90" cy="711.46" rx="1.20" ry="1.20" fill="#f0f0f0"/>
<rect x="670.95" y="719.60" width="5.60" height="6.60" fill="#151515"/>
<ellipse cx="673.75" cy="728.24" rx="5.00" ry="3.36" fill="#1a1a1a"/>
<ellipse cx="671.75" cy="728.96" rx="1.20" ry="1.20" fill="#f0f0f0"/>
<ellipse cx="675.55" cy="728.96" rx="1.20" ry="1.20" fill="#f0f0f0"/>
<rect x="711.66" y="686.50" width="4.48" height="4.95" fill="#151515"/>
<ellipse cx="713.9" cy="692.98" rx="4.00" ry="2.52" fill="#1a1a1a"/>
<ellipse cx="712.30" cy="693.52" rx="0.96" ry="0.90" fill="#f0f0f0"/>
<ellipse cx="715.34" cy="693.52" rx="0.96" ry="0.90" fill="#f0f0f0"/>
<circle cx="616" cy="318" r="0.75" fill="#666"/>
<circle cx="616" cy="323" r="0.75" fill="#666"/>
<circle cx="616" cy="328" r="0.75" fill="#666"/>
<circle cx="668" cy="338" r="0.75" fill="#666"/>
<circle cx="623" cy="353" r="0.75" fill="#666"/>
<circle cx="618" cy="398" r="0.75" fill="#666"/>
<circle cx="618" cy="404" r="0.75" fill="#666"/>
<circle cx="668" cy="396" r="0.75" fill="#666"/>
<circle cx="623" cy="419" r="0.75" fill="#666"/>
<circle cx="623" cy="441" r="0.75" fill="#666"/>
<circle cx="619" cy="468" r="0.75" fill="#666"/>
<circle cx="619" cy="475" r="0.75" fill="#666"/>
<circle cx="619" cy="481" r="0.75" fill="#666"/>
<circle cx="626" cy="526" r="0.75" fill="#666"/>
<circle cx="621" cy="567" r="0.75" fill="#666"/>
<circle cx="621" cy="573" r="0.75" fill="#666"/>
<circle cx="622" cy="600" r="0.75" fill="#666"/>
<circle cx="622" cy="615" r="0.75" fill="#666"/>
<circle cx="628" cy="631" r="0.75" fill="#666"/>
<circle cx="624" cy="673" r="0.75" fill="#666"/>
<circle cx="624" cy="678" r="0.75" fill="#666"/>
<circle cx="624" cy="683" r="0.75" fill="#666"/>
</svg>
</body></html>
